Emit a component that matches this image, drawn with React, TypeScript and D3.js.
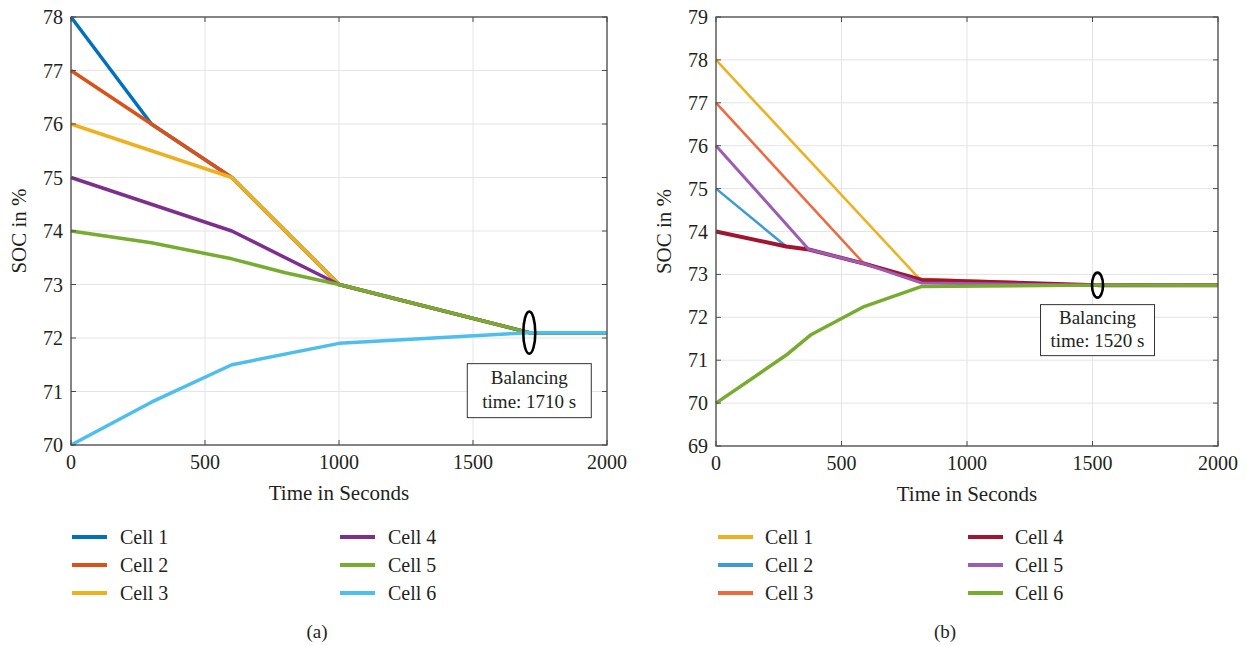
import React from "react";
import * as d3 from "d3";

// ---- Panel (a): six cells converging to a common SOC ----
const cellNames = ["Cell 1", "Cell 2", "Cell 3", "Cell 4", "Cell 5", "Cell 6"];

const timeA1 = [0, 300, 600, 1000, 1710, 2000];
const socA1 = [78, 76, 75, 73, 72.1, 72.1];
const timeA2 = [0, 300, 600, 1000, 1710, 2000];
const socA2 = [77, 76, 75, 73, 72.1, 72.1];
const timeA3 = [0, 300, 600, 1000, 1710, 2000];
const socA3 = [76, 75.5, 75, 73, 72.1, 72.1];
const timeA4 = [0, 300, 600, 1000, 1710, 2000];
const socA4 = [75, 74.5, 74, 73, 72.1, 72.1];
const timeA5 = [0, 300, 600, 800, 1000, 1710, 2000];
const socA5 = [74, 73.78, 73.48, 73.22, 73, 72.1, 72.1];
const timeA6 = [0, 300, 600, 1000, 1710, 2000];
const socA6 = [70, 70.8, 71.5, 71.9, 72.1, 72.1];

// ---- Panel (b) ----
const timeB1 = [0, 810, 1520, 2000];
const socB1 = [78, 72.9, 72.75, 72.75];
const timeB2 = [0, 280, 370, 590, 820, 1520, 2000];
const socB2 = [75, 73.65, 73.58, 73.25, 72.85, 72.75, 72.75];
const timeB3 = [0, 585, 820, 1520, 2000];
const socB3 = [77, 73.28, 72.85, 72.75, 72.75];
const timeB4 = [0, 280, 370, 590, 820, 1520, 2000];
const socB4 = [74, 73.65, 73.58, 73.25, 72.87, 72.75, 72.75];
const timeB5 = [0, 370, 590, 820, 1520, 2000];
const socB5 = [76, 73.58, 73.25, 72.8, 72.75, 72.75];
const timeB6 = [0, 280, 380, 590, 820, 1520, 2000];
const socB6 = [70, 71.12, 71.6, 72.25, 72.72, 72.75, 72.75];

const xTicks = [0, 500, 1000, 1500, 2000];
const yTicksA = [70, 71, 72, 73, 74, 75, 76, 77, 78];
const yTicksB = [69, 70, 71, 72, 73, 74, 75, 76, 77, 78, 79];

const balanceTimeA = 1710;
const balanceSocA = 72.1;
const balanceTimeB = 1520;
const balanceSocB = 72.75;

const colorsA = ["#0072BD", "#D95319", "#EDB120", "#7E2F8E", "#77AC30", "#4DBEEE"];
const colorsB = ["#EDB120", "#3C9BD6", "#EE6A3C", "#A2142F", "#9B5CB4", "#77AC30"];
const widthsA = [3.5, 3.5, 3.5, 3.5, 3.5, 3.5];
const widthsB = [2.5, 2.5, 2.5, 4, 3, 3.5];

const FONT = "'Liberation Serif', 'DejaVu Serif', serif";
const INK = "#231f20";

type Series = { name: string; t: number[]; v: number[]; color: string; width: number };

type PanelProps = {
  series: Series[];
  yTicks: number[];
  x0: number;
  x1: number;
  y0: number;
  y1: number;
  balanceT: number;
  balanceV: number;
  ellRx: number;
  ellRy: number;
  boxW: number;
  boxH: number;
  boxGap: number;
  balanceLabel: string;
  legendX: number[];
  legendTextDx: number;
  tag: string;
  tagX: number;
};

function Panel(p: PanelProps) {
  const x = d3.scaleLinear().domain([0, 2000]).range([p.x0, p.x1]);
  const yMin = p.yTicks[0];
  const yMax = p.yTicks[p.yTicks.length - 1];
  const y = d3.scaleLinear().domain([yMin, yMax]).range([p.y1, p.y0]);
  const line = d3
    .line<[number, number]>()
    .x((d) => x(d[0]))
    .y((d) => y(d[1]));

  const ex = x(p.balanceT);
  const ey = y(p.balanceV);
  const boxTop = ey + p.ellRy + p.boxGap;
  const tickLen = 5;
  const axisColor = "#4a4a4a";

  return (
    <g>
      {/* grid */}
      {xTicks.map((t) => (
        <line key={"gx" + t} x1={x(t)} x2={x(t)} y1={p.y0} y2={p.y1} stroke="#e4e4e4" strokeWidth={1} />
      ))}
      {p.yTicks.map((t) => (
        <line key={"gy" + t} x1={p.x0} x2={p.x1} y1={y(t)} y2={y(t)} stroke="#e4e4e4" strokeWidth={1} />
      ))}
      {/* series */}
      {p.series.map((s) => (
        <path
          key={s.name}
          d={line(s.t.map((t, i) => [t, s.v[i]] as [number, number])) || ""}
          fill="none"
          stroke={s.color}
          strokeWidth={s.width}
          strokeLinejoin="round"
        />
      ))}
      {/* box + ticks */}
      <rect x={p.x0} y={p.y0} width={p.x1 - p.x0} height={p.y1 - p.y0} fill="none" stroke={axisColor} strokeWidth={1.3} />
      {xTicks.map((t) => (
        <g key={"tx" + t}>
          <line x1={x(t)} x2={x(t)} y1={p.y1} y2={p.y1 - tickLen} stroke={axisColor} />
          <line x1={x(t)} x2={x(t)} y1={p.y0} y2={p.y0 + tickLen} stroke={axisColor} />
          <text x={x(t)} y={p.y1 + 24} textAnchor="middle" fontFamily={FONT} fontSize={20} fill={INK}>
            {t}
          </text>
        </g>
      ))}
      {p.yTicks.map((t) => (
        <g key={"ty" + t}>
          <line x1={p.x0} x2={p.x0 + tickLen} y1={y(t)} y2={y(t)} stroke={axisColor} />
          <line x1={p.x1} x2={p.x1 - tickLen} y1={y(t)} y2={y(t)} stroke={axisColor} />
          <text x={p.x0 - 8} y={y(t) + 7} textAnchor="end" fontFamily={FONT} fontSize={20} fill={INK}>
            {t}
          </text>
        </g>
      ))}
      {/* axis titles */}
      <text x={(p.x0 + p.x1) / 2} y={p.y1 + 55} textAnchor="middle" fontFamily={FONT} fontSize={21} fill={INK}>
        Time in Seconds
      </text>
      <text
        transform={`translate(${p.x0 - 45},${(p.y0 + p.y1) / 2}) rotate(-90)`}
        textAnchor="middle"
        fontFamily={FONT}
        fontSize={21}
        fill={INK}
      >
        SOC in %
      </text>
      {/* balancing marker */}
      <ellipse cx={ex} cy={ey} rx={p.ellRx} ry={p.ellRy} fill="none" stroke="#000" strokeWidth={2.6} />
      <rect x={ex - p.boxW / 2} y={boxTop} width={p.boxW} height={p.boxH} fill="#fff" stroke="#333" strokeWidth={1} />
      <text x={ex} y={boxTop + p.boxH * 0.38} textAnchor="middle" fontFamily={FONT} fontSize={19} fill={INK}>
        Balancing
      </text>
      <text x={ex} y={boxTop + p.boxH * 0.83} textAnchor="middle" fontFamily={FONT} fontSize={19} fill={INK}>
        {p.balanceLabel}
      </text>
      {/* legend */}
      {p.series.map((s, i) => {
        const col = Math.floor(i / 3);
        const row = i % 3;
        const lx = p.legendX[col];
        const ly = 537 + row * 28;
        return (
          <g key={"lg" + s.name}>
            <line x1={lx} x2={lx + 35} y1={ly} y2={ly} stroke={s.color} strokeWidth={4} />
            <text x={lx + p.legendTextDx} y={ly + 7} fontFamily={FONT} fontSize={20} fill={INK}>
              {s.name}
            </text>
          </g>
        );
      })}
      <text x={p.tagX} y={638} textAnchor="middle" fontFamily={FONT} fontSize={19} fill={INK}>
        {p.tag}
      </text>
    </g>
  );
}

export default function App() {
  const tA = [timeA1, timeA2, timeA3, timeA4, timeA5, timeA6];
  const vA = [socA1, socA2, socA3, socA4, socA5, socA6];
  const tB = [timeB1, timeB2, timeB3, timeB4, timeB5, timeB6];
  const vB = [socB1, socB2, socB3, socB4, socB5, socB6];
  const seriesA: Series[] = cellNames.map((n, i) => ({ name: n, t: tA[i], v: vA[i], color: colorsA[i], width: widthsA[i] }));
  const seriesB: Series[] = cellNames.map((n, i) => ({ name: n, t: tB[i], v: vB[i], color: colorsB[i], width: widthsB[i] }));

  return (
    <svg
      width={1246}
      height={645}
      style={{ position: "absolute", left: 0, top: 0, background: "#fff" }}
    >
      <rect x={0} y={0} width={1246} height={645} fill="#fff" />
      <Panel
        series={seriesA}
        yTicks={yTicksA}
        x0={71}
        x1={607}
        y0={17}
        y1={445}
        balanceT={balanceTimeA}
        balanceV={balanceSocA}
        ellRx={6}
        ellRy={21}
        boxW={124}
        boxH={54}
        boxGap={10}
        balanceLabel={`time: ${balanceTimeA} s`}
        legendX={[72, 340]}
        legendTextDx={48}
        tag="(a)"
        tagX={317}
      />
      <Panel
        series={seriesB}
        yTicks={yTicksB}
        x0={716}
        x1={1218}
        y0={17}
        y1={446}
        balanceT={balanceTimeB}
        balanceV={balanceSocB}
        ellRx={5.5}
        ellRy={12.5}
        boxW={114}
        boxH={51}
        boxGap={7}
        balanceLabel={`time: ${balanceTimeB} s`}
        legendX={[718, 968]}
        legendTextDx={47}
        tag="(b)"
        tagX={945}
      />
    </svg>
  );
}
